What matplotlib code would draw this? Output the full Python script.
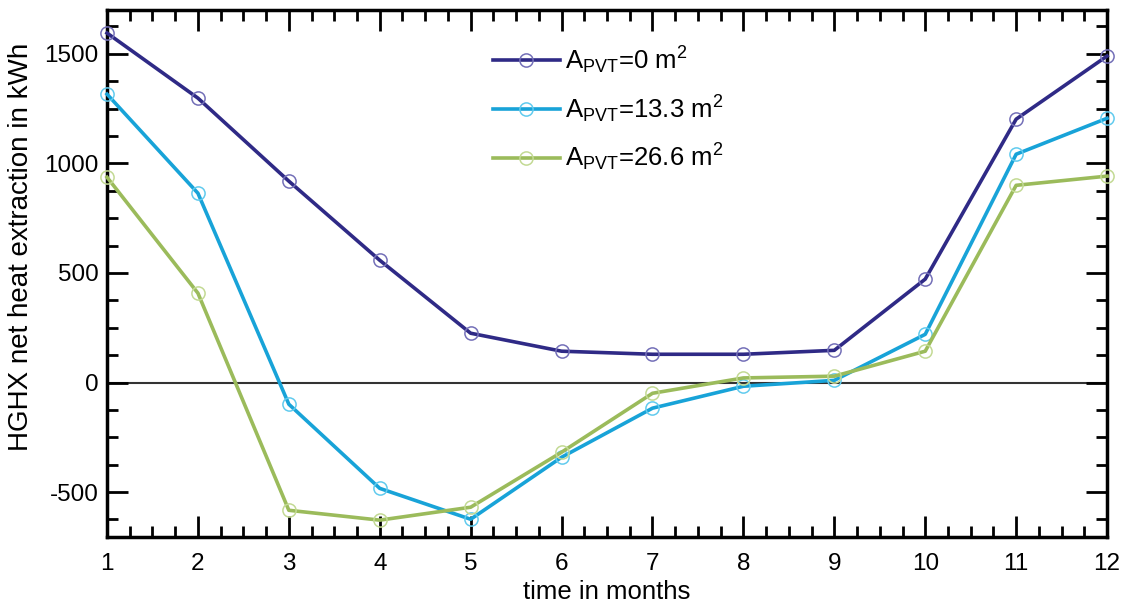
import matplotlib
matplotlib.use("Agg")
import matplotlib.pyplot as plt
from matplotlib.ticker import MultipleLocator
import numpy as np

plt.rcParams["font.family"] = ["Liberation Sans", "DejaVu Sans"]
plt.rcParams["mathtext.fontset"] = "custom"
plt.rcParams["mathtext.rm"] = "Liberation Sans"
plt.rcParams["mathtext.it"] = "Liberation Sans"
plt.rcParams["axes.unicode_minus"] = False

months = np.arange(1, 13)
q_0 = [1595, 1298, 919, 558, 225, 143, 129, 129, 147, 472, 1202, 1490]
q_133 = [1316, 864, -99, -483, -624, -341, -117, -17, 10, 220, 1042, 1206]
q_266 = [937, 408, -583, -628, -569, -318, -49, 21, 29, 143, 900, 942]
labels = [r"A$_{\mathrm{PVT}}$=0 m$^2$",
          r"A$_{\mathrm{PVT}}$=13.3 m$^2$",
          r"A$_{\mathrm{PVT}}$=26.6 m$^2$"]
line_colors = ["#2f2a86", "#18a3d8", "#9bbb5b"]
marker_colors = ["#7470b8", "#62cbee", "#c3da94"]

fig = plt.figure(figsize=(11.3, 6.04), dpi=100)
ax = fig.add_axes([0.0947, 0.1109, 0.885, 0.8725])

ax.axhline(0, color="#333333", lw=1.5, zorder=1)
for y, lc, mc, lab in zip([q_0, q_133, q_266], line_colors, marker_colors, labels):
    ax.plot(months, y, color=lc, lw=2.6, marker="o", ms=9.5, mfc="none",
            mec=mc, mew=1.1, label=lab, zorder=3, clip_on=False)

ax.set_xlim(1, 12)
ax.set_ylim(-705, 1700)
ax.xaxis.set_major_locator(MultipleLocator(1))
ax.xaxis.set_minor_locator(MultipleLocator(0.25))
ax.yaxis.set_major_locator(MultipleLocator(500))
ax.yaxis.set_minor_locator(MultipleLocator(125))
ax.tick_params(which="both", direction="in", top=True, right=True,
               width=2, labelsize=17.5, color="black")
ax.tick_params(which="major", length=15)
ax.tick_params(which="minor", length=8)
ax.tick_params(axis="x", pad=11.5)
ax.tick_params(axis="y", pad=6)
for s in ax.spines.values():
    s.set_linewidth(2.5)

ax.set_xlabel("time in months", fontsize=18.5)
ax.xaxis.set_label_coords(0.5, -0.081)
ax.set_ylabel("HGHX net heat extraction in kWh", fontsize=20)
ax.yaxis.set_label_coords(-0.073, 0.55)

ax.legend(loc="upper left", bbox_to_anchor=(0.386, 0.935), frameon=False,
          fontsize=18.5, handlelength=2.6, handletextpad=0.2,
          labelspacing=0.68, borderpad=0, borderaxespad=0)

fig.savefig("out.png", dpi=100)
